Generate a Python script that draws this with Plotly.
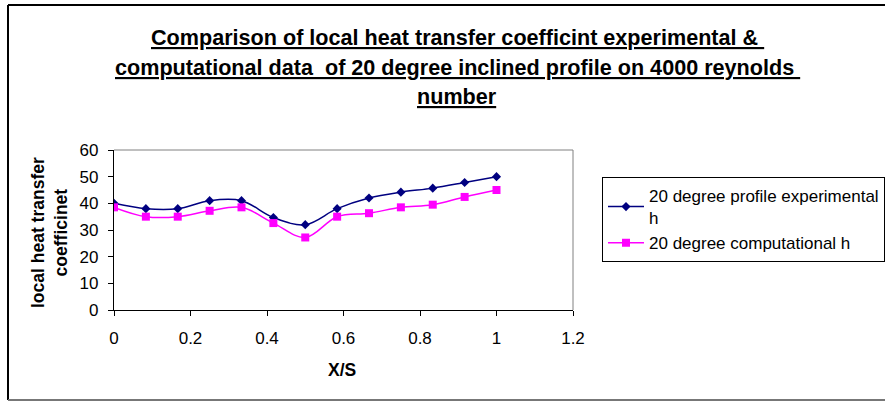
import plotly.graph_objects as go

# X/S stations along the profile (13 equally spaced points from 0 to 1)
xs = [0, 1/12, 2/12, 3/12, 4/12, 5/12, 6/12, 7/12, 8/12, 9/12, 10/12, 11/12, 1]
h_experimental = [40, 38, 38, 41, 41, 34.7, 32, 38, 42, 44.2, 45.7, 47.8, 50]
h_computational = [38.5, 35, 35, 37.2, 38.5, 32.6, 27.2, 35, 36.3, 38.5, 39.5, 42.4, 45]

series_names = ["20 degree profile experimental<br>h", "20 degree computational h"]
title_lines = [
    "Comparison of local heat transfer coefficint experimental &\u00a0",
    "computational data \u00a0of 20 degree inclined profile on 4000 reynolds\u00a0",
    "number",
]
y_title = "local heat transfer<br>coefficinet"
x_title = "X/S"

W, H = 885, 401
L, R, T, B = 114, 312, 150, 91
PW, PH = W - L - R, H - T - B


def px(xp):
    return (xp - L) / PW


def py(yp):
    return (H - B - yp) / PH


fig = go.Figure()
fig.add_trace(go.Scatter(
    x=xs, y=h_experimental, name=series_names[0], mode="lines+markers",
    line=dict(color="#000080", width=1.5, shape="spline", smoothing=1),
    marker=dict(symbol="diamond", size=7, color="#000080"),
))
fig.add_trace(go.Scatter(
    x=xs, y=h_computational, name=series_names[1], mode="lines+markers",
    line=dict(color="#FF00FF", width=1.5, shape="spline", smoothing=1),
    marker=dict(symbol="square", size=8, color="#FF00FF"),
))

font = "Liberation Sans, Arial, sans-serif"

annotations = []
for line, yc in zip(title_lines, [37, 67, 96]):
    annotations.append(dict(
        text=f"<b><u>{line}</u></b>", xref="paper", yref="paper",
        x=px(457), y=py(yc), xanchor="center", yanchor="middle",
        showarrow=False, font=dict(family=font, size=21.6, color="black"),
    ))
annotations.append(dict(
    text=f"<b>{y_title}</b>", xref="paper", yref="paper",
    x=px(49), y=py(233), xanchor="center", yanchor="middle", textangle=-90,
    showarrow=False, font=dict(family=font, size=17.5, color="black"),
))
annotations.append(dict(
    text=f"<b>{x_title}</b>", xref="paper", yref="paper",
    x=px(342), y=py(370), xanchor="center", yanchor="middle",
    showarrow=False, font=dict(family=font, size=17.5, color="black"),
))

shapes = [
    # outer chart frame
    dict(type="line", xref="paper", yref="paper", x0=px(8), x1=px(8), y0=py(400), y1=py(5),
         line=dict(color="black", width=2)),
    dict(type="line", xref="paper", yref="paper", x0=px(8), x1=px(900), y0=py(5), y1=py(5),
         line=dict(color="black", width=2)),
    dict(type="line", xref="paper", yref="paper", x0=px(8), x1=px(900), y0=py(400), y1=py(400),
         line=dict(color="#777777", width=2)),
    # plot area border (top and right)
    dict(type="line", xref="paper", yref="paper", x0=0, x1=1, y0=1, y1=1,
         line=dict(color="#808080", width=1)),
    dict(type="line", xref="paper", yref="paper", x0=1, x1=1, y0=0, y1=1,
         line=dict(color="#808080", width=1)),
]

fig.update_layout(
    width=W, height=H,
    margin=dict(l=L, r=R, t=T, b=B, autoexpand=False),
    paper_bgcolor="white", plot_bgcolor="white",
    font=dict(family=font, size=17, color="black"),
    showlegend=True,
    legend=dict(
        x=px(602), y=py(177), xanchor="left", yanchor="top",
        bordercolor="black", borderwidth=1, bgcolor="white",
        font=dict(family=font, size=17, color="black"),
        itemwidth=36, tracegroupgap=4,
    ),
    annotations=annotations,
    shapes=shapes,
)
fig.update_xaxes(
    range=[0, 1.2], dtick=0.2, tick0=0, showgrid=False, zeroline=False,
    showline=True, linecolor="black", linewidth=1.2,
    ticks="outside", ticklen=5, tickcolor="black", tickwidth=1.2,
    tickfont=dict(size=17), ticklabelstandoff=7,
)
fig.update_yaxes(
    range=[0, 60], dtick=10, tick0=0, showgrid=False, zeroline=False,
    showline=True, linecolor="black", linewidth=1.2,
    ticks="outside", ticklen=5, tickcolor="black", tickwidth=1.2,
    tickfont=dict(size=17), ticklabelstandoff=6,
)

fig.write_html("out.html")
